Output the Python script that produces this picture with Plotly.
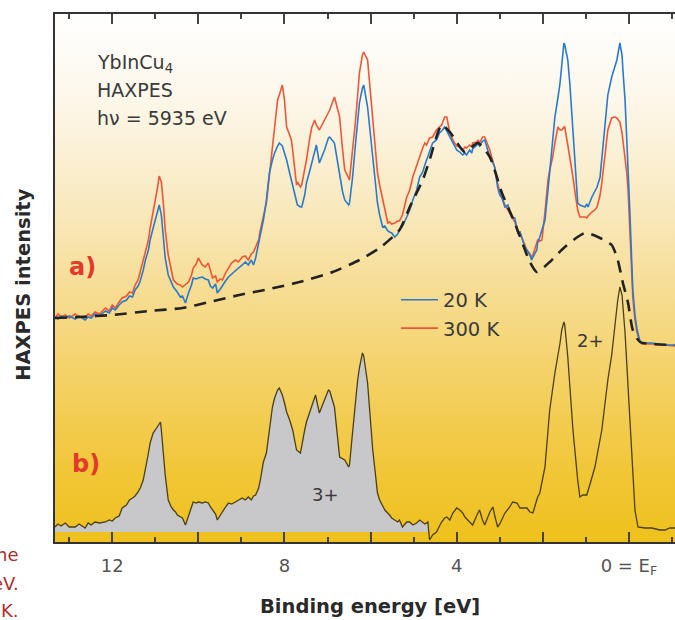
import base64
import plotly.graph_objects as go

# ---------------- data ----------------
# a) HAXPES spectra, binding energy in eV, intensity in arbitrary units
energy_a = [13.33, 13.26, 13.19, 13.09, 13.00, 12.86, 12.77, 12.63, 12.56, 12.49, 12.40, 12.30, 12.16, 12.07,
            12.00, 11.93, 11.84, 11.77, 11.67, 11.60, 11.53, 11.47, 11.40, 11.35, 11.28, 11.23, 11.16, 11.12,
            11.05, 11.00, 10.95, 10.91, 10.86, 10.81, 10.77, 10.70, 10.63, 10.58, 10.49, 10.42, 10.37, 10.30,
            10.23, 10.16, 10.12, 10.05, 10.00, 9.91, 9.84, 9.77, 9.72, 9.67, 9.60, 9.56, 9.49, 9.44, 9.37,
            9.30, 9.23, 9.14, 9.07, 8.98, 8.91, 8.84, 8.77, 8.72, 8.67, 8.60, 8.56, 8.49, 8.42, 8.35, 8.28,
            8.23, 8.16, 8.12, 8.05, 8.00, 7.95, 7.88, 7.84, 7.81, 7.72, 7.70, 7.63, 7.60, 7.53, 7.49, 7.42,
            7.37, 7.30, 7.26, 7.19, 7.07, 6.98, 6.95, 6.84, 6.72, 6.65, 6.60, 6.51, 6.49, 6.42, 6.37, 6.30,
            6.26, 6.19, 6.16, 6.07, 5.95, 5.84, 5.79, 5.72, 5.67, 5.60, 5.56, 5.51, 5.44, 5.37, 5.33, 5.26,
            5.16, 5.09, 5.02, 4.93, 4.86, 4.79, 4.74, 4.70, 4.63, 4.56, 4.47, 4.40, 4.35, 4.28, 4.23, 4.16,
            4.09, 4.05, 4.00, 3.93, 3.86, 3.81, 3.77, 3.70, 3.65, 3.63, 3.53, 3.51, 3.47, 3.40, 3.35, 3.23,
            3.19, 3.12, 3.05, 3.00, 2.95, 2.88, 2.81, 2.77, 2.72, 2.65, 2.58, 2.53, 2.49, 2.42, 2.37, 2.30,
            2.26, 2.23, 2.14, 2.12, 2.07, 2.02, 1.95, 1.88, 1.84, 1.77, 1.72, 1.65, 1.60, 1.56, 1.51, 1.49,
            1.42, 1.37, 1.30, 1.26, 1.19, 1.14, 1.02, 0.98, 0.95, 0.86, 0.79, 0.74, 0.67, 0.63, 0.56, 0.51,
            0.49, 0.40, 0.33, 0.28, 0.21, 0.16, 0.14, 0.09, 0.05, 0.02, -0.02, -0.09, -0.14, -0.19, -0.26,
            -0.30, -0.53, -0.84, -1.07]

intensity_20K = [215, 213, 216, 214, 216, 213, 216, 212, 215, 214, 218, 216, 221, 219,
                 224, 222, 227, 230, 232, 236, 235, 242, 246, 251, 262, 272, 282, 292,
                 304, 312, 320, 327, 317, 292, 274, 257, 249, 245, 240, 235, 236, 229,
                 239, 247, 254, 253, 254, 255, 253, 252, 246, 244, 248, 239, 243, 247, 251,
                 255, 258, 262, 264, 267, 270, 267, 272, 267, 274, 289, 297, 312, 332, 359, 372,
                 379, 386, 389, 386, 379, 372, 359, 352, 345, 332, 327, 325, 325, 337, 349, 360,
                 369, 382, 387, 369, 382, 394, 395, 389, 359, 340, 332, 327, 329, 354, 379, 412,
                 429, 444, 447, 425, 375, 329, 317, 305, 306, 301, 300, 299, 295, 298, 302, 306,
                 315, 322, 332, 342, 355, 360, 367, 372, 380, 389, 392, 399, 401, 405, 401, 395,
                 390, 385, 382, 380, 377, 379, 377, 382, 379, 383, 387, 389, 386, 391, 392, 375,
                 372, 365, 345, 337, 334, 325, 327, 320, 315, 314, 299, 300, 294, 285, 282, 277,
                 272, 275, 282, 289, 295, 302, 312, 342, 362, 392, 415, 434, 449, 467, 489, 487,
                 472, 447, 402, 367, 329, 327, 325, 328, 325, 335, 340, 345, 355, 375, 407, 429,
                 437, 455, 464, 472, 489, 477, 462, 432, 392, 367, 322, 242, 217, 202, 190,
                 189, 189, 187, 187]

intensity_300K = [214, 218, 215, 217, 214, 218, 215, 214, 218, 216, 220, 218, 224, 221,
                  227, 224, 230, 234, 236, 240, 239, 247, 252, 260, 270, 280, 292, 304,
                  320, 335, 344, 356, 350, 327, 302, 277, 260, 252, 248, 247, 245, 248,
                  250, 257, 264, 268, 274, 267, 265, 269, 260, 254, 256, 250, 253, 252, 259,
                  264, 269, 272, 270, 275, 276, 272, 278, 280, 285, 292, 302, 317, 329, 357, 385,
                  404, 432, 437, 447, 432, 405, 397, 392, 382, 347, 350, 345, 347, 362, 372, 392,
                  404, 412, 407, 402, 412, 420, 422, 435, 415, 382, 362, 354, 352, 382, 402, 437,
                  459, 477, 480, 472, 415, 359, 347, 332, 322, 309, 310, 308, 309, 311, 311, 317,
                  335, 342, 355, 367, 375, 384, 389, 387, 394, 395, 402, 405, 407, 415, 415, 399,
                  392, 389, 386, 385, 382, 385, 384, 387, 385, 389, 390, 392, 389, 395, 395, 382,
                  375, 365, 349, 340, 335, 327, 322, 319, 314, 310, 299, 300, 295, 287, 282, 278,
                  275, 277, 289, 292, 291, 292, 320, 352, 362, 375, 389, 405, 402, 402, 405, 405,
                  387, 375, 355, 342, 322, 315, 315, 314, 316, 320, 322, 325, 337, 349, 377, 395,
                  402, 414, 415, 414, 410, 399, 392, 377, 359, 342, 302, 235, 212, 199, 190,
                  188, 188, 187, 186]

# dashed Yb3+ background / reference curve
energy_bg = [13.33, 12.77, 12.00, 11.14, 10.37, 9.74, 9.05, 8.35, 7.65, 6.88, 6.26, 5.79, 5.33, 5.09,
             4.79, 4.63, 4.35, 4.16, 3.81, 3.51, 3.23, 2.95, 2.65, 2.30, 2.14, 1.84, 1.49, 1.02, 0.67,
             0.40, 0.26, 0.14, 0.02, -0.09, -0.26, -1.07]
intensity_bg = [214, 215, 217, 221, 224, 230, 237, 243, 250, 260, 272, 284, 302, 325,
                352, 372, 407, 400, 380, 389, 375, 339, 309, 270, 260, 270, 285, 299, 294,
                287, 272, 249, 229, 202, 190, 187]

# b) difference spectrum
energy_b = [13.33, 13.26, 13.19, 13.09, 13.00, 12.86, 12.77, 12.63, 12.56, 12.49, 12.40, 12.30, 12.16, 12.07,
            12.00, 11.93, 11.84, 11.77, 11.67, 11.60, 11.53, 11.47, 11.40, 11.35, 11.28, 11.23, 11.16, 11.12,
            11.05, 11.00, 10.95, 10.91, 10.88, 10.86, 10.81, 10.77, 10.70, 10.63, 10.58, 10.53, 10.49, 10.42,
            10.37, 10.30, 10.23, 10.16, 10.12, 10.05, 10.00, 9.91, 9.84, 9.77, 9.72, 9.67, 9.60, 9.56, 9.49,
            9.44, 9.37, 9.30, 9.23, 9.14, 9.07, 8.98, 8.91, 8.84, 8.77, 8.72, 8.67, 8.60, 8.56, 8.49, 8.42,
            8.35, 8.28, 8.23, 8.16, 8.12, 8.05, 8.00, 7.95, 7.88, 7.81, 7.72, 7.63, 7.53, 7.49, 7.42, 7.37,
            7.28, 7.19, 7.07, 6.98, 6.95, 6.84, 6.72, 6.65, 6.60, 6.51, 6.49, 6.42, 6.37, 6.30, 6.26, 6.19,
            6.16, 6.07, 5.95, 5.84, 5.79, 5.67, 5.56, 5.51, 5.44, 5.37, 5.33, 5.26, 5.16, 5.09, 5.02, 4.93,
            4.86, 4.79, 4.74, 4.67, 4.63, 4.56, 4.47, 4.40, 4.35, 4.28, 4.23, 4.16, 4.09, 4.00, 3.93, 3.86,
            3.81, 3.70, 3.63, 3.53, 3.47, 3.40, 3.35, 3.23, 3.16, 3.12, 3.05, 3.00, 2.88, 2.77, 2.70, 2.60,
            2.53, 2.37, 2.30, 2.23, 2.12, 2.07, 1.95, 1.84, 1.72, 1.60, 1.56, 1.51, 1.49, 1.42, 1.30, 1.19,
            1.14, 1.07, 0.98, 0.91, 0.79, 0.63, 0.56, 0.49, 0.40, 0.33, 0.26, 0.21, 0.16, 0.09, 0.02, -0.02,
            -0.09, -0.14, -0.21, -0.37, -0.53, -0.72, -0.84, -0.95, -1.07]
intensity_b = [5, 8, 6, 9, 5, 5, 8, 4, 9, 7, 10, 9, 10, 12,
               11, 14, 16, 24, 27, 32, 34, 36, 40, 44, 52, 62, 79, 89,
               99, 102, 105, 108, 110, 102, 75, 57, 32, 25, 22, 20, 17, 15,
               14, 7, 17, 25, 30, 29, 30, 29, 30, 29, 25, 22, 18, 12, 17,
               20, 25, 29, 28, 30, 32, 34, 32, 35, 32, 36, 37, 44, 52, 70, 79,
               102, 125, 134, 142, 144, 137, 129, 120, 112, 102, 82, 79, 102, 110, 119, 126,
               137, 119, 132, 142, 141, 125, 75, 73, 72, 65, 67, 99, 122, 152, 164, 179,
               176, 149, 82, 39, 32, 22, 17, 14, 12, 10, 12, 5, 10, 10, 7, 9,
               12, 10, 8, 10, -8, -3, 0, 6, 10, 14, 15, 12, 19, 24, 22, 19,
               15, 10, 7, 17, 22, 12, 7, 20, 25, 17, 5, 8, 19, 25, 30, 29,
               24, 24, 20, 19, 35, 39, 65, 122, 159, 189, 202, 210, 207, 175, 102, 52,
               35, 37, 37, 47, 65, 102, 127, 152, 177, 205, 232, 245, 237, 199, 147, 112,
               62, 22, 5, 4, 4, 2, 2, 4, 4]

shade_limit_eV = 4.67          # Yb3+ part of b) is shaded down to the baseline
x_tick_vals = [12, 10, 8, 6, 4, 2, 0]
x_tick_text = ["12", "", "8", "", "4", "", "0 = E<sub>F</sub>"]
info_lines = ["YbInCu<sub>4</sub>", "HAXPES", "hν = 5935 eV"]

# ---------------- styling ----------------
FONT = "DejaVu Sans"
BLUE = "#2a7acb"
RED = "#ee5638"
TEXT = "#3a3a3a"
LABEL_RED = "#e2392a"

grad = [(0.00, "#ffffff"), (0.15, "#fdf8ec"), (0.35, "#f9eac2"), (0.55, "#f6db8c"),
        (0.75, "#f3cd55"), (0.90, "#f0c52f"), (1.00, "#efc11d")]
stops = "".join(f'<stop offset="{o}" stop-color="{c}"/>' for o, c in grad)
svg = ('<svg xmlns="http://www.w3.org/2000/svg" width="100" height="100" viewBox="0 0 100 100" '
       'preserveAspectRatio="none"><defs><linearGradient id="g" x1="0" y1="0" x2="0" y2="1">'
       f'{stops}</linearGradient></defs><rect width="100" height="100" fill="url(#g)"/></svg>')
bg_src = "data:image/svg+xml;base64," + base64.b64encode(svg.encode()).decode()

fig = go.Figure()

# shaded 3+ part of the difference spectrum
shade_e = [e for e in energy_b if e >= shade_limit_eV]
shade_i = [i for e, i in zip(energy_b, intensity_b) if e >= shade_limit_eV]
fig.add_trace(go.Scatter(x=shade_e, y=shade_i, mode="lines", line=dict(width=0),
                         fill="tozeroy", fillcolor="#c8c8ca", showlegend=False, hoverinfo="skip"))
fig.add_trace(go.Scatter(x=energy_b, y=intensity_b, mode="lines",
                         line=dict(color="#4a3f17", width=1.3), showlegend=False))

fig.add_trace(go.Scatter(x=energy_a, y=intensity_300K, mode="lines", name="300 K",
                         line=dict(color=RED, width=1.6), legendrank=2, legendgroup="r"))
fig.add_trace(go.Scatter(x=energy_a, y=intensity_20K, mode="lines", name="20 K",
                         line=dict(color=BLUE, width=1.6), legendrank=1, legendgroup="b"))
fig.add_trace(go.Scatter(x=energy_bg, y=intensity_bg, mode="lines", showlegend=False,
                         line=dict(color="#222222", width=2.6, dash="12px,8px", shape="spline",
                                   smoothing=0.6)))

ann = []
for txt, yy in zip(info_lines, [469, 442, 414]):
    ann.append(dict(x=12.39, y=yy, xref="x", yref="y", xanchor="left", yanchor="middle",
                    text=txt, showarrow=False, font=dict(family=FONT, size=19, color=TEXT)))
ann.append(dict(x=12.69, y=265, xref="x", yref="y", text="<b>a)</b>", showarrow=False,
                font=dict(family=FONT, size=24, color=LABEL_RED)))
ann.append(dict(x=12.60, y=68, xref="x", yref="y", text="<b>b)</b>", showarrow=False,
                font=dict(family=FONT, size=24, color=LABEL_RED)))
ann.append(dict(x=7.05, y=38, xref="x", yref="y", text="3+", showarrow=False,
                font=dict(family=FONT, size=18, color=TEXT)))
ann.append(dict(x=0.90, y=192, xref="x", yref="y", text="2+", showarrow=False,
                font=dict(family=FONT, size=18, color=TEXT)))
ann.append(dict(x=0.508, y=-0.123, xref="paper", yref="paper", xanchor="center", yanchor="middle",
                text="<b>Binding energy [eV]</b>",
                showarrow=False, font=dict(family=FONT, size=19.5, color="#2a2a2a")))
ann.append(dict(x=-0.05, y=0.487, xref="paper", yref="paper", xanchor="center", yanchor="middle",
                text="<b>HAXPES intensity</b>",
                textangle=-90, showarrow=False, font=dict(family=FONT, size=19.5, color="#2a2a2a")))
for txt, yy in [("the", -0.0246), ("eV.", -0.0777), ("K.", -0.1288)]:
    ann.append(dict(x=-0.0548, y=yy, xref="paper", yref="paper", xanchor="right", yanchor="middle",
                    text=txt, showarrow=False, font=dict(family=FONT, size=18, color="#a8302e")))

fig.update_layout(
    width=675, height=620,
    margin=dict(l=55, r=0, t=14, b=78, autoexpand=False),
    paper_bgcolor="white", plot_bgcolor="rgba(0,0,0,0)",
    images=[dict(source=bg_src, xref="paper", yref="paper", x=0, y=1, sizex=1, sizey=1,
                 xanchor="left", yanchor="top", sizing="stretch", layer="below")],
    xaxis=dict(range=[13.33, -1.07], showgrid=False, zeroline=False, automargin=False,
               showline=True, linecolor="#333333", linewidth=2, mirror="allticks",
               ticks="inside", ticklen=10, tickwidth=1.5, tickcolor="#444444",
               tickmode="array", tickvals=x_tick_vals, ticktext=x_tick_text,
               ticklabelstandoff=6,
               tickfont=dict(family=FONT, size=18, color="#555555"),
               minor=dict(tickmode="linear", tick0=0, dtick=1, ticks="inside", ticklen=5,
                          tickwidth=1.5, tickcolor="#444444", showgrid=False)),
    yaxis=dict(range=[-10, 518], showgrid=False, zeroline=False, showticklabels=False,
               automargin=False,
               showline=True, linecolor="#333333", linewidth=2, mirror=False, ticks=""),
    legend=dict(x=0.55, y=0.495, xanchor="left", yanchor="top", bgcolor="rgba(0,0,0,0)",
                font=dict(family=FONT, size=19.5, color=TEXT), tracegroupgap=0,
                traceorder="grouped", itemwidth=37),
    annotations=ann,
    showlegend=True,
)

fig.write_html("out.html", config={"displayModeBar": False},
               post_script="document.body.style.margin='0';")
